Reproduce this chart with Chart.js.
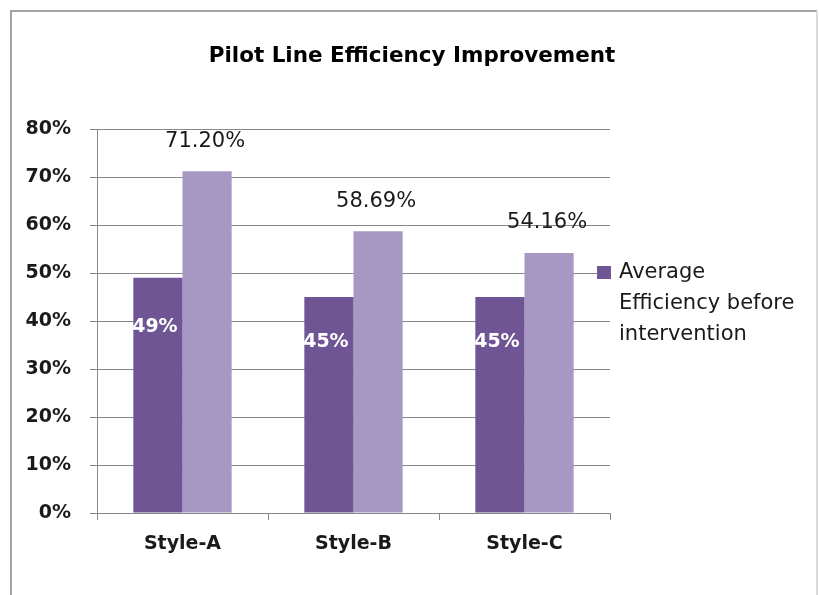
<!DOCTYPE html>
<html>
<head>
<meta charset="utf-8">
<title>Pilot Line Efficiency Improvement</title>
<script src="https://cdn.jsdelivr.net/npm/chart.js@4.4.0/dist/chart.umd.min.js"></script>
<style>
  html, body { margin: 0; padding: 0; background: #fff; }
  #wrap { width: 819px; height: 595px; }
</style>
</head>
<body>
<div id="wrap"><canvas id="chart" width="819" height="595"></canvas></div>
<script>
// ── Data ──────────────────────────────────────────────────────────────
const categories  = ['Style-A', 'Style-B', 'Style-C'];
const beforeVals  = [49, 45, 45];
const afterVals   = [71.20, 58.69, 54.16];
const seriesNames = ['Average Efficiency before intervention', 'Average Efficiency after intervention'];
const chartTitle  = 'Pilot Line Efficiency Improvement';
const yMax  = 80;
const yStep = 10;

const FONT  = 'DejaVu Sans';
const GRID  = '#878787';
const DARK  = '#6f5593';
const LIGHT = '#a698c2';

// ── Frame, title, value labels and the (clipped) legend ───────────────
const extras = {
  id: 'extras',
  beforeDraw(chart) {
    const c = chart.ctx;
    c.save();
    c.lineWidth = 2;
    c.strokeStyle = '#a3a3a3';
    c.beginPath();
    c.moveTo(11, 600); c.lineTo(11, 11); c.lineTo(817, 11);
    c.stroke();
    c.strokeStyle = '#dadada';
    c.beginPath();
    c.moveTo(817, 11); c.lineTo(817, 600);
    c.stroke();

    // title is centred on the whole frame, not the plot
    c.font = 'bold 21.5px "' + FONT + '"';
    c.fillStyle = '#000';
    c.textAlign = 'center';
    c.textBaseline = 'middle';
    c.fillText(chartTitle, 412, 56);
    c.restore();
  },
  afterDatasetsDraw(chart) {
    const c = chart.ctx;
    c.save();
    c.textAlign = 'center';
    c.textBaseline = 'middle';
    // dark bars: white bold label inside
    chart.getDatasetMeta(0).data.forEach((bar, i) => {
      const h = bar.base - bar.y;
      c.font = 'bold 19px "' + FONT + '"';
      c.fillStyle = '#ffffff';
      c.fillText(beforeVals[i] + '%', bar.x - 3, bar.y + h * 0.21);
    });
    // light bars: black label above
    chart.getDatasetMeta(1).data.forEach((bar, i) => {
      c.font = '21px "' + FONT + '"';
      c.fillStyle = '#1a1a1a';
      c.fillText(afterVals[i].toFixed(2) + '%', bar.x - 2, bar.y - 30);
    });

    // legend: only the first entry fits in the frame
    const ds = chart.data.datasets[0];
    c.fillStyle = ds.backgroundColor;
    c.fillRect(597, 266, 14, 13);
    c.font = '21px "' + FONT + '"';
    c.fillStyle = '#1a1a1a';
    c.textAlign = 'left';
    const words = ds.label.split(' ');
    const lines = [];
    let cur = '';
    words.forEach(w => {
      const t = cur ? cur + ' ' + w : w;
      if (cur && c.measureText(t).width > 185) { lines.push(cur); cur = w; } else cur = t;
    });
    if (cur) lines.push(cur);
    lines.forEach((ln, k) => c.fillText(ln, 619, 273 + k * 31));
    c.restore();
  }
};

new Chart(document.getElementById('chart').getContext('2d'), {
  type: 'bar',
  data: {
    labels: categories,
    datasets: [
      { label: seriesNames[0], data: beforeVals, backgroundColor: DARK },
      { label: seriesNames[1], data: afterVals,  backgroundColor: LIGHT }
    ]
  },
  options: {
    responsive: false,
    animation: false,
    devicePixelRatio: 1,
    categoryPercentage: 0.575,
    barPercentage: 1.0,
    layout: { padding: { top: 129, left: 0, right: 209, bottom: 0 } },
    plugins: {
      legend: { display: false },
      tooltip: { enabled: false },
      title: { display: false }
    },
    scales: {
      x: {
        afterFit: s => { s.height = 82; },
        grid: { offset: true, drawOnChartArea: false, tickLength: 7, color: GRID },
        border: { color: GRID },
        ticks: { color: '#1a1a1a', padding: 13, font: { family: FONT, size: 19, weight: 'bold' } }
      },
      y: {
        min: 0, max: yMax,
        afterFit: s => { s.width = 97; },
        grid: { color: GRID, tickLength: 7 },
        border: { color: GRID },
        ticks: {
          stepSize: yStep,
          color: '#1a1a1a',
          padding: 19,
          font: { family: FONT, size: 19, weight: 'bold' },
          callback: v => v + '%'
        }
      }
    }
  },
  plugins: [extras]
});
</script>
</body>
</html>
